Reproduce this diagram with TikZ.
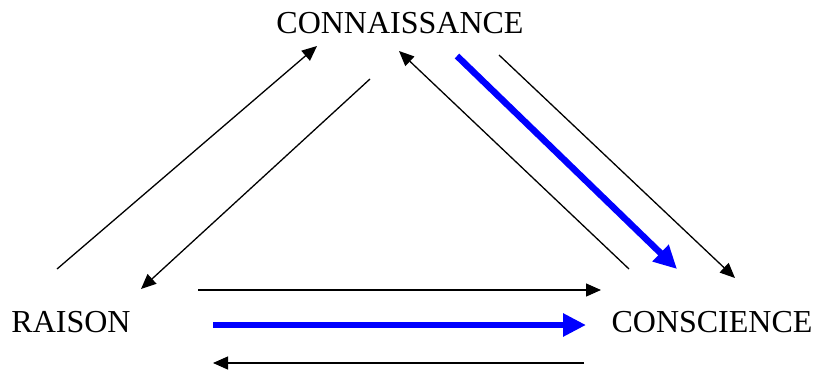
\documentclass[tikz,border=0pt]{standalone}
\usepackage{fontspec}
\setmainfont{Liberation Serif}
\usetikzlibrary{arrows.meta}
\begin{document}
\begin{tikzpicture}[x=1pt,y=-1pt,
  lbl/.style={anchor=base,inner sep=0pt,font=\fontsize{32}{32}\selectfont},
  thin/.style={line width=1.3pt,-{Triangle[length=15pt,width=13pt]}},
  thick/.style={draw=blue,line width=6.5pt,-{Triangle[length=23pt,width=22pt]}}]
\useasboundingbox (0,0) rectangle (817,375);
\node[lbl] (con) at (400,33) {CONNAISSANCE};
\node[lbl] (rai) at (71,332) {RAISON};
\node[lbl] (cons) at (712,332) {CONSCIENCE};
% coordinates
\coordinate (a1) at (57,269);  \coordinate (a2) at (317,46);
\coordinate (b1) at (370,79);  \coordinate (b2) at (141,289);
\coordinate (c1) at (629,269); \coordinate (c2) at (399,51);
\coordinate (d1) at (457,56);  \coordinate (d2) at (677,269);
\coordinate (e1) at (499,55);  \coordinate (e2) at (735,278);
\coordinate (f1) at (198,290); \coordinate (f2) at (601,290);
\coordinate (g1) at (213,325); \coordinate (g2) at (586,325);
\coordinate (h1) at (584,363); \coordinate (h2) at (213,363);
\draw[thin] (a1) -- (a2);
\draw[thin] (b1) -- (b2);
\draw[thin] (c1) -- (c2);
\draw[thick] (d1) -- (d2);
\draw[thin] (e1) -- (e2);
\draw[thin] (f1) -- (f2);
\draw[thick] (g1) -- (g2);
\draw[thin] (h1) -- (h2);
\end{tikzpicture}
\end{document}
